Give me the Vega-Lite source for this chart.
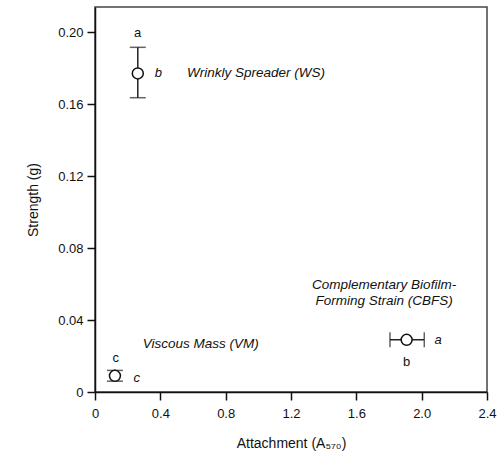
{
  "$schema": "https://vega.github.io/schema/vega-lite/v6.json",
  "width": 392,
  "height": 385,
  "autosize": "none",
  "padding": {"left": 95, "top": 7, "right": 14, "bottom": 70},
  "background": "white",
  "config": {
    "font": "Liberation Sans",
    "view": {"stroke": "#444", "strokeWidth": 1.5},
    "axis": {
      "grid": false,
      "domainColor": "#111",
      "domainWidth": 1.5,
      "tickColor": "#111",
      "tickWidth": 1.5,
      "tickSize": 8,
      "labelFont": "Liberation Sans",
      "labelFontSize": 13,
      "labelColor": "#111",
      "titleFont": "Liberation Sans",
      "titleFontSize": 14,
      "titleFontWeight": "normal",
      "titleColor": "#111"
    }
  },
  "datasets": {
    "points": [
      {"strain": "WS", "attachment": 0.262, "strength": 0.177},
      {"strain": "VM", "attachment": 0.122, "strength": 0.009},
      {"strain": "CBFS", "attachment": 1.908, "strength": 0.029}
    ],
    "vbars": [
      {"strain": "WS", "attachment": 0.262, "lo": 0.1635, "hi": 0.1915},
      {"strain": "VM", "attachment": 0.122, "lo": 0.006, "hi": 0.012}
    ],
    "hbars": [
      {"strain": "CBFS", "strength": 0.029, "lo": 1.806, "hi": 2.016}
    ],
    "regular": [
      {"label": "a", "x": 0.261, "y": 0.1994},
      {"label": "c", "x": 0.127, "y": 0.0189},
      {"label": "b", "x": 1.908, "y": 0.0167}
    ],
    "italic": [
      {"label": "b", "x": 0.388, "y": 0.177},
      {"label": "c", "x": 0.255, "y": 0.0076},
      {"label": "a", "x": 2.1, "y": 0.029}
    ],
    "names": [
      {"label": "Wrinkly Spreader (WS)", "x": 0.563, "y": 0.177},
      {"label": "Viscous Mass (VM)", "x": 0.292, "y": 0.0269}
    ],
    "cbfs": [
      {"label": "Complementary Biofilm-", "x": 1.77, "y": 0.0593},
      {"label": "Forming Strain (CBFS)", "x": 1.77, "y": 0.0504}
    ]
  },
  "layer": [
    {
      "data": {"name": "vbars"},
      "mark": {"type": "rule", "color": "#222", "strokeWidth": 1.5},
      "encoding": {
        "x": {"field": "attachment", "type": "quantitative",
          "scale": {"domain": [0, 2.4], "nice": false, "zero": false},
          "axis": {"values": [0, 0.4, 0.8, 1.2, 1.6, 2.0, 2.4],
            "labelExpr": "datum.value == 0 ? '0' : format(datum.value, '.1f')",
            "labelPadding": 7, "titlePadding": 16, "labelFlush": false},
          "title": "Attachment (A₅₇₀)"},
        "y": {"field": "lo", "type": "quantitative",
          "scale": {"domain": [0, 0.2139], "nice": false, "zero": false},
          "axis": {"values": [0, 0.04, 0.08, 0.12, 0.16, 0.2],
            "labelExpr": "datum.value == 0 ? '0' : format(datum.value, '.2f')",
            "labelPadding": 4, "titlePadding": 17, "labelFlush": false},
          "title": "Strength (g)"},
        "y2": {"field": "hi"}
      }
    },
    {
      "data": {"name": "vbars"},
      "transform": [{"fold": ["lo", "hi"], "as": ["end", "value"]}],
      "mark": {"type": "tick", "orient": "horizontal", "color": "#222", "thickness": 1.5, "size": 16},
      "encoding": {
        "x": {"field": "attachment", "type": "quantitative"},
        "y": {"field": "value", "type": "quantitative"}
      }
    },
    {
      "data": {"name": "hbars"},
      "mark": {"type": "rule", "color": "#222", "strokeWidth": 1.5},
      "encoding": {
        "x": {"field": "lo", "type": "quantitative"},
        "x2": {"field": "hi"},
        "y": {"field": "strength", "type": "quantitative"}
      }
    },
    {
      "data": {"name": "hbars"},
      "transform": [{"fold": ["lo", "hi"], "as": ["end", "value"]}],
      "mark": {"type": "tick", "orient": "vertical", "color": "#222", "thickness": 1.5, "size": 15},
      "encoding": {
        "x": {"field": "value", "type": "quantitative"},
        "y": {"field": "strength", "type": "quantitative"}
      }
    },
    {
      "data": {"name": "points"},
      "mark": {"type": "point", "shape": "circle", "filled": false, "fill": "white", "fillOpacity": 1, "stroke": "#111", "strokeWidth": 1.5, "size": 120, "opacity": 1},
      "encoding": {
        "x": {"field": "attachment", "type": "quantitative"},
        "y": {"field": "strength", "type": "quantitative"}
      }
    },
    {
      "data": {"name": "regular"},
      "mark": {"type": "text", "fontSize": 13, "color": "#111", "align": "center", "baseline": "middle"},
      "encoding": {
        "x": {"field": "x", "type": "quantitative"},
        "y": {"field": "y", "type": "quantitative"},
        "text": {"field": "label"}
      }
    },
    {
      "data": {"name": "italic"},
      "mark": {"type": "text", "fontSize": 13, "fontStyle": "italic", "color": "#111", "align": "center", "baseline": "middle"},
      "encoding": {
        "x": {"field": "x", "type": "quantitative"},
        "y": {"field": "y", "type": "quantitative"},
        "text": {"field": "label"}
      }
    },
    {
      "data": {"name": "names"},
      "mark": {"type": "text", "fontSize": 13.5, "fontStyle": "italic", "color": "#111", "align": "left", "baseline": "middle"},
      "encoding": {
        "x": {"field": "x", "type": "quantitative"},
        "y": {"field": "y", "type": "quantitative"},
        "text": {"field": "label"}
      }
    },
    {
      "data": {"name": "cbfs"},
      "mark": {"type": "text", "fontSize": 13.5, "fontStyle": "italic", "color": "#111", "align": "center", "baseline": "middle"},
      "encoding": {
        "x": {"field": "x", "type": "quantitative"},
        "y": {"field": "y", "type": "quantitative"},
        "text": {"field": "label"}
      }
    }
  ]
}
